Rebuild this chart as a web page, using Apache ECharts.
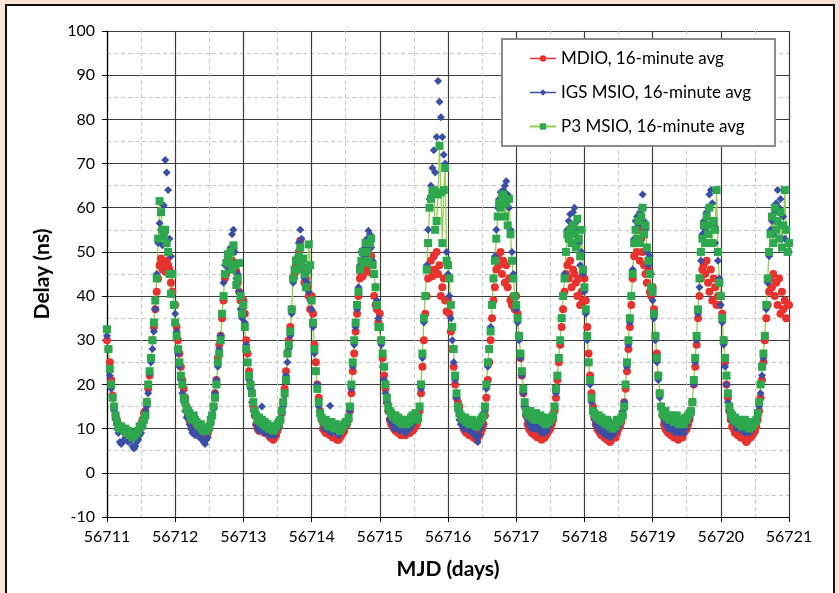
<!DOCTYPE html>
<html lang="en">
<head>
<meta charset="UTF-8">
<title>Delay vs MJD</title>
<script src="https://cdn.jsdelivr.net/npm/echarts@6/dist/echarts.min.js"></script>
<style>
    body { margin: 0; padding: 0; background: #fbe4d5; }
    #frame {
        position: absolute;
        left: 5px;
        top: 4px;
        width: 826px;
        height: 600px;
        border: 2px solid #111;
        background: #fff;
    }
    #chart { position: absolute; left: 0; top: 0; width: 839px; height: 593px; }
</style>
</head>
<body>
<div id="frame"></div>
<div id="chart"></div>
<script>
// samples every 30 minutes, 48 per day, from MJD 56711.0 to 56721.0
var mjdStart = 56711;
var perDay = 48;

var p3 = [
  32.5, 28, 23.5, 20, 17, 15, 13, 11.5, 10.5, 10, 10.5, 10, 9.5, 10, 9, 9.5, 8.5, 9, 8, 8.5, 9, 9, 9.5, 10.5,
  10.5, 11, 12, 13, 16, 20, 23, 26, 30, 34, 39, 44, 53, 61.5, 59, 55, 53.5, 55, 52, 50, 45, 40.5, 45, 38,
  34, 31, 28, 25, 22, 20, 17, 16, 14.5, 14, 13.5, 12.5, 12, 13, 12, 11.5, 11, 10.5, 11, 10, 9.5, 10, 9.5, 10,
  10.5, 12, 13, 15, 17, 20, 25, 27, 30, 36, 40, 45, 47.5, 49.5, 48, 50, 46, 51.5, 47, 42.5, 44, 47.5, 40, 36,
  38, 33, 28, 25, 22, 20, 18, 16, 14, 13, 12, 12.5, 11.5, 12, 11, 11.5, 10.5, 11, 10, 10.5, 10, 9.5, 10, 10.5,
  11, 11.5, 12, 14, 16, 18, 21, 27, 29, 32, 37, 44, 46, 48, 46, 49, 51, 47, 48.5, 45, 42, 46, 51.7, 47,
  39, 34, 28, 23, 19, 16, 13.5, 12.5, 12, 11.5, 12, 11, 10.5, 11, 11.5, 10.5, 10, 11, 10.5, 10, 9.5, 10, 10.5, 11,
  11.5, 11.5, 12.5, 15, 20, 25, 30, 34, 38, 41, 46, 48, 50, 47.5, 52, 50, 48, 52, 53, 47, 45, 42, 38, 33,
  33, 30, 27, 24, 20, 17, 15, 14, 13.5, 13, 12.5, 13, 12, 12.5, 11.5, 12, 11, 12, 11.5, 11, 12, 11.5, 12.5, 13,
  12.5, 13.5, 12, 12.5, 15, 20, 27, 35, 40, 46, 52, 60, 62, 63.5, 64, 55, 57, 63, 74, 63.5, 52, 64, 69, 48,
  47, 44, 38, 33, 28, 22, 18, 15, 13.5, 13, 12.5, 12, 12.5, 11.5, 12, 11, 11.5, 12, 11, 11.5, 10.5, 11, 11.5, 12,
  12.5, 13, 15, 20, 25, 28, 32, 38, 44, 48, 53, 58, 61, 60, 62.5, 63, 58, 61, 56, 62, 54, 48, 44, 40,
  38, 35, 31, 27, 23, 19, 16, 14, 13.5, 13, 14, 12.5, 13, 12, 13.5, 12.5, 12, 13, 12.5, 11.5, 12, 11, 12.5, 11.5,
  12, 12.5, 13, 15, 19, 22, 26, 30, 35, 40, 44, 50, 54, 53, 55, 52, 56, 54, 51, 57.5, 53, 49, 55, 46,
  42, 37, 31, 25, 21, 17, 14, 13.5, 13, 12.5, 13, 12, 12.5, 11.5, 12, 11, 12, 11.5, 10.5, 11, 10, 11, 10.5, 12,
  11.5, 12, 12.5, 13, 15, 20, 25, 30, 35, 40, 45, 52, 55, 53, 57, 52, 58, 60, 54, 56, 51, 48, 45, 42,
  41, 36, 31, 26, 22, 18, 15, 13.5, 13, 14, 12.5, 13, 12, 13, 12.5, 11.5, 12, 13, 12, 11, 11.5, 12, 11, 12.5,
  12, 13, 13.5, 14, 16, 21, 26, 31, 37, 44, 50, 53, 56, 52, 58, 54, 60, 56, 52, 57, 55, 64, 50, 43,
  40, 35, 30, 26, 22, 18, 15, 13.5, 13, 12, 12.5, 11.5, 12, 11, 11.5, 10.5, 11, 12, 10.5, 11, 10, 11.5, 10.5, 11,
  11.5, 12, 13.5, 16, 20, 24, 27, 31, 38, 44, 50, 54, 58, 52, 60, 55, 57, 53, 59, 51, 56, 64, 55, 50,
  52
];

var mdio = [
  30, 28, 25, 21, 17.5, 15, 13, 12, 11, 10, 10, 9.5, 9.5, 9, 9.5, 9, 9, 8.5, 8.5, 8.5, 9, 9, 9.5, 10,
  11, 12, 13.5, 14, 16, 19, 22, 26, 30, 33, 37, 41, 44, 47, 48.5, 46, 47.5, 45.5, 48, 47, 46, 43, 41, 38,
  38, 33, 30, 27, 24, 21, 19, 17, 15, 13, 12, 11, 10, 9.5, 9, 10, 10.5, 10, 9.5, 9, 8.5, 8, 8.5, 9,
  10, 11.5, 13, 15, 18, 21, 26, 29, 31, 35, 39, 44, 45, 48, 47, 50.5, 48, 51, 47, 45.5, 43, 41, 39, 37,
  39, 36, 30, 27, 23, 20, 18, 15, 13, 11, 10, 9.5, 9.5, 10, 10, 9, 9.5, 9, 8.5, 8, 8, 7.5, 8, 8.5,
  9.5, 10.5, 12, 13.5, 16, 19, 23, 27, 30, 33, 37, 44, 45, 47, 48.5, 50, 52.5, 48, 46, 43, 44, 42, 40, 37,
  40, 36, 29, 25, 20, 17, 14, 12, 10, 9.5, 9, 9.5, 9, 8.5, 8.5, 8, 8.5, 8, 7.5, 7.5, 8, 8.5, 9, 9.5,
  10.5, 11, 12, 14, 18, 23, 27, 32, 36, 40, 44, 45, 44.5, 47, 46, 45.5, 48, 47, 49, 45, 40, 38, 37, 34,
  36, 30, 26, 22, 19, 16, 14, 12, 11, 10.5, 10, 9.5, 9.5, 9, 9, 8.5, 9.5, 9, 8.5, 9, 9.5, 9, 10, 9.5,
  10, 10.5, 11, 12, 14, 18, 24, 30, 36, 40, 44, 46, 48, 44.5, 49, 46, 50, 45, 47, 40, 42, 44, 39, 36.5,
  39, 36, 32, 28, 24, 20, 17, 16, 15, 13, 11, 10, 9.5, 9, 9, 8.5, 9, 8.5, 8, 8.5, 7.5, 8, 8.5, 9,
  10, 11, 13, 17, 21, 25, 30, 35, 39, 42, 46, 49, 47, 50, 45, 48, 43, 47, 42, 44, 39, 38, 40, 37,
  40, 36, 31, 26, 22, 18, 15, 13, 11, 10, 9.5, 9, 9, 8.5, 8.5, 8, 8.5, 8, 7.5, 8, 8, 8.5, 9, 9.5,
  10, 11, 12, 14, 17, 21, 25, 29, 33, 37, 41, 45, 47, 44, 48, 42, 46, 45, 43, 40, 44, 38, 41, 39,
  44, 39, 33, 27, 22, 18, 15, 12.5, 11, 10, 9.5, 9, 8.5, 9, 8, 8.5, 7.5, 8, 7, 7.5, 8, 8.5, 8, 9,
  10, 10.5, 11.5, 13, 16, 19, 23, 28, 33, 38, 44, 49, 52, 50, 55, 48, 53, 50, 47, 45, 43, 46, 41, 40,
  42, 37, 31, 27, 22, 18, 15, 13, 11, 10, 9.5, 9, 9, 8.5, 9, 8, 8.5, 8, 7.5, 8, 8.5, 8, 9, 9.5,
  10, 11, 12, 13.5, 16, 20, 24, 29, 35, 40, 44, 46, 47, 45, 48, 43, 41, 46, 39, 44, 42, 38, 40, 38,
  40, 36, 30, 25, 20, 17, 14, 12, 10.5, 10, 9, 9.5, 8.5, 9, 8, 8.5, 8, 7.5, 7, 7.5, 8, 8, 8.5, 9,
  9.5, 10.5, 12, 14, 17, 21, 25, 30, 35, 38, 41, 44, 42, 45, 40, 43, 38, 44, 36, 41, 37, 39, 35, 38,
  38
];

var igs = [
  31, 28, 22, 19, 17, 14, 12, 10, 9, 7, 6.5, 7, 7.5, 8, 7.5, 7, 8, 7.5, 6, 5.5, 6, 7, 7.5, 8.5,
  9, 10.5, 12, 14, 15, 18, 22.5, 25, 28, 32, 37, 45, 52, 56.5, 55, 51.5, 60.5, 70.8, 68, 64, 53, 49, 45, 38,
  36, 32, 27, 24, 21, 18, 16, 14, 12.5, 13, 11, 10, 9, 9.5, 8.5, 9, 9, 8, 8.5, 7.5, 7, 6.5, 7.5, 8,
  10, 11, 12.5, 14.5, 18, 21, 24, 28, 31, 36, 43, 47, 48, 49, 46, 51, 54, 55, 50, 44, 45, 41, 37, 35,
  36, 34, 29, 25, 21, 19, 16, 14, 13, 11, 10, 9.5, 10, 15, 10.5, 9, 9.5, 10, 8.5, 9, 8.5, 9, 8.5, 9.5,
  10, 10.5, 11.5, 13.5, 15, 17.5, 22, 25, 28, 31, 36, 43, 44, 46, 48, 52, 55, 53, 47, 44, 45, 43, 41, 39,
  37, 33, 27, 23, 20, 15, 13, 12.5, 11, 10, 10.5, 10, 9.5, 15.2, 9, 9.5, 10, 9.5, 9, 8.5, 9, 9.5, 10, 10.5,
  11, 11, 12, 14, 19, 24, 29, 33, 37, 42, 47, 50, 50.5, 49, 51, 53, 54.8, 54, 51, 48, 45, 42, 39, 35,
  33, 29, 24, 21, 18, 16, 14, 12, 11.5, 11, 10, 10.5, 11, 10, 9.5, 10, 10.5, 9.5, 9, 10, 9.5, 10, 10.5, 11,
  11.5, 12, 12.5, 13, 15, 19, 26, 34, 40, 47, 55, 62, 65, 69, 73, 68, 76, 88.7, 84, 80.5, 76, 72, 70, 50,
  45, 40, 35, 30, 25, 21, 17, 14, 12, 11, 11.5, 10, 10.5, 10, 11, 9.5, 10, 9, 9.5, 8.5, 8, 7, 8.5, 10,
  11, 12.5, 14, 19, 24, 28, 33, 38, 44, 49, 55, 60, 62, 63.5, 61, 64, 65, 66, 63, 60, 55, 50, 45, 40,
  37, 34, 30, 26, 22, 18, 15, 13, 12, 11, 10.5, 10, 10.5, 10, 11, 10.5, 9.5, 10, 9, 9.5, 9, 10, 9.5, 10.5,
  11, 12, 13, 15, 18, 22, 26, 30, 35, 40, 45, 50, 55, 57, 58.5, 56, 59, 60, 55, 57, 52, 47, 50, 45,
  41, 36, 30, 25, 20, 16, 14, 12, 11, 10.5, 10, 9.5, 10, 9, 9.5, 8.5, 9, 9.5, 8, 9, 8.5, 9, 9.5, 10,
  10.5, 11.5, 12.5, 14, 16, 20, 24, 29, 34, 40, 46, 53, 57, 58, 56, 59, 60, 63, 57, 55, 50, 47, 49, 45,
  39, 35, 30, 25, 21, 17, 14.5, 13, 12, 11, 11.5, 10, 10.5, 10, 9.5, 10, 9, 9.5, 10, 9, 9.5, 10.5, 9, 10,
  11, 12, 12.5, 14, 16, 20, 25, 30, 36, 42, 48, 54, 57, 55, 59, 60, 63, 64, 61, 56, 52, 50, 48, 44,
  38, 34, 29, 24, 20, 16, 14, 12.5, 11.5, 12, 11, 10, 10.5, 11, 10, 9.5, 10.5, 9, 9.5, 10, 9, 9.5, 10, 10.5,
  11, 12, 13, 15, 18, 22, 26, 31, 37, 43, 49, 55, 57, 54, 59, 61, 64, 60, 62, 56, 58, 53, 55, 50,
  50
];

var names = ['MDIO, 16-minute avg', 'IGS MSIO, 16-minute avg', 'P3 MSIO, 16-minute avg'];

function pairs(vals) {
  var out = [];
  for (var i = 0; i < vals.length; i++) {
    out.push([mjdStart + i / perDay, vals[i]]);
  }
  return out;
}

var myChart = echarts.init(document.getElementById('chart'));
var labelFont = { fontFamily: 'Lato', fontSize: 16, color: '#000' };

var option = {
  animation: false,
  grid: { left: 107, right: 50, top: 31, bottom: 76 },
  legend: {
    orient: 'vertical',
    left: 502,
    top: 39,
    padding: [11, 24, 11, 27],
    itemGap: 17,
    itemWidth: 26,
    itemHeight: 8,
    backgroundColor: '#fff',
    borderColor: '#8a8a8a',
    borderWidth: 2,
    textStyle: { fontFamily: 'Lato', fontSize: 17, color: '#000' },
    data: [
      { name: names[0], lineStyle: { color: '#e8322e', width: 1.5, opacity: 1 } },
      { name: names[1], lineStyle: { color: '#3b4fa5', width: 1.5, opacity: 1 } },
      { name: names[2], lineStyle: { color: '#92d050', width: 2, opacity: 1 } }
    ]
  },
  xAxis: {
    type: 'value',
    min: 56711,
    max: 56721,
    interval: 1,
    name: 'MJD (days)',
    nameLocation: 'middle',
    nameGap: 42,
    nameTextStyle: { fontFamily: 'Lato', fontSize: 21, fontWeight: 'bold', color: '#000' },
    axisLine: { onZero: false, lineStyle: { color: '#000', width: 1.2 } },
    axisTick: { show: true, length: 5, lineStyle: { color: '#000' } },
    axisLabel: Object.assign({ margin: 12, formatter: function (v) { return String(v); } }, labelFont),
    splitLine: { show: true, lineStyle: { color: '#3c3c3c', width: 1.2 } },
    minorTick: { show: false, splitNumber: 2 },
    minorSplitLine: { show: true, lineStyle: { color: '#c6c6c6', type: [4, 3], width: 1 } }
  },
  yAxis: {
    type: 'value',
    min: -10,
    max: 100,
    interval: 10,
    name: 'Delay (ns)',
    nameLocation: 'middle',
    nameGap: 54,
    nameRotate: 90,
    nameTextStyle: { fontFamily: 'Lato', fontSize: 21, fontWeight: 'bold', color: '#000' },
    axisLine: { show: true, lineStyle: { color: '#000', width: 1.2 } },
    axisTick: { show: true, length: 5, lineStyle: { color: '#000' } },
    axisLabel: Object.assign({ margin: 12 }, labelFont),
    splitLine: { show: true, lineStyle: { color: '#3c3c3c', width: 1.2 } },
    minorTick: { show: false, splitNumber: 2 },
    minorSplitLine: { show: true, lineStyle: { color: '#c6c6c6', type: [4, 3], width: 1 } }
  },
  series: [
    {
      name: names[0],
      type: 'line',
      data: pairs(mdio),
      symbol: 'circle',
      symbolSize: 8,
      showAllSymbol: true,
      itemStyle: { color: '#e8322e' },
      lineStyle: { color: '#e8322e', width: 0, opacity: 0 }
    },
    {
      name: names[1],
      type: 'line',
      data: pairs(igs),
      symbol: 'diamond',
      symbolSize: 8,
      showAllSymbol: true,
      itemStyle: { color: '#3b4fa5' },
      lineStyle: { color: '#3b4fa5', width: 0, opacity: 0 }
    },
    {
      name: names[2],
      type: 'line',
      data: pairs(p3),
      symbol: 'rect',
      symbolSize: 8,
      showAllSymbol: true,
      itemStyle: { color: '#2ea84f' },
      lineStyle: { color: '#92d050', width: 1.3 }
    }
  ]
};

myChart.setOption(option);
</script>
</body>
</html>
